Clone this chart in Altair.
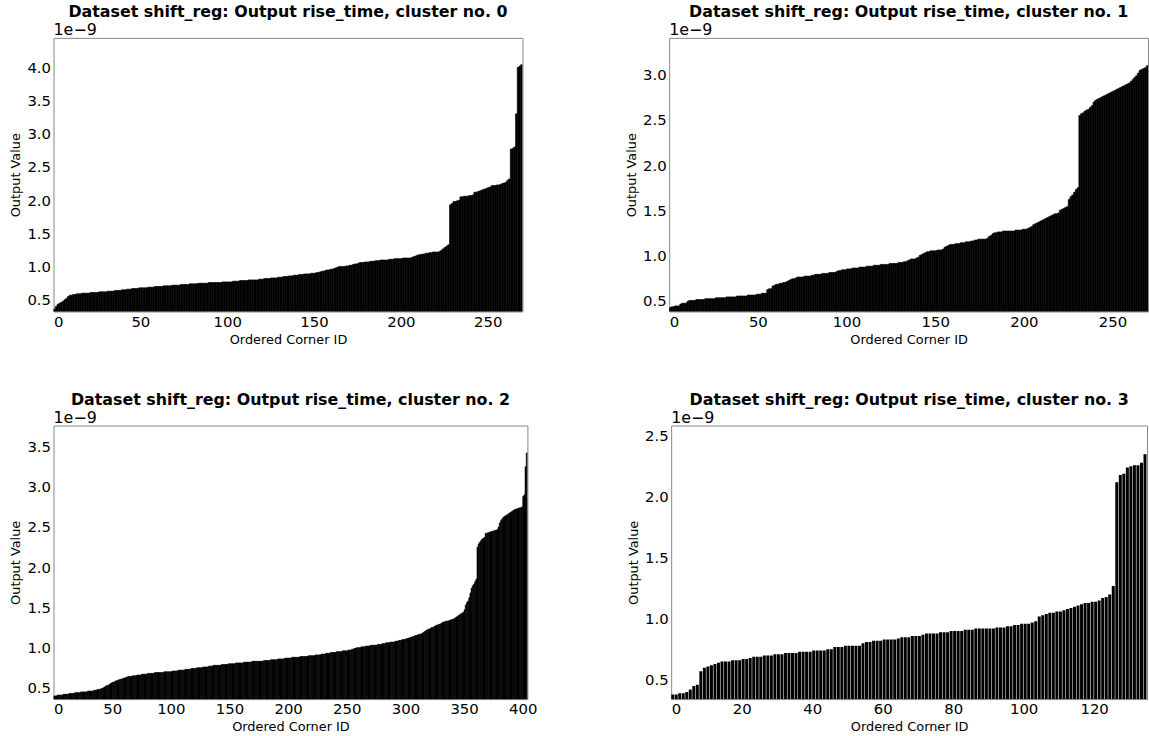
import altair as alt
import pandas as pd

# values in units of 1e-9 s, sorted
cluster0 = [
    0.36, 0.40, 0.43, 0.45, 0.46, 0.48, 0.50, 0.52, 0.55, 0.57,
    0.57, 0.58, 0.58, 0.59, 0.59, 0.59, 0.60, 0.60, 0.60, 0.60,
    0.60, 0.61, 0.61, 0.61, 0.61, 0.61, 0.62, 0.62, 0.62, 0.62,
    0.62, 0.63, 0.63, 0.63, 0.63, 0.64, 0.64, 0.64, 0.64, 0.65,
    0.65, 0.65, 0.66, 0.66, 0.66, 0.67, 0.67, 0.67, 0.67, 0.68,
    0.68, 0.68, 0.68, 0.68, 0.69, 0.69, 0.69, 0.69, 0.70, 0.70,
    0.70, 0.70, 0.70, 0.71, 0.71, 0.71, 0.71, 0.71, 0.72, 0.72,
    0.72, 0.72, 0.72, 0.73, 0.73, 0.73, 0.73, 0.73, 0.74, 0.74,
    0.74, 0.74, 0.74, 0.75, 0.75, 0.75, 0.75, 0.75, 0.75, 0.76,
    0.76, 0.76, 0.76, 0.76, 0.76, 0.76, 0.76, 0.77, 0.77, 0.77,
    0.77, 0.77, 0.77, 0.78, 0.78, 0.78, 0.78, 0.79, 0.79, 0.79,
    0.79, 0.79, 0.80, 0.80, 0.80, 0.80, 0.80, 0.80, 0.81, 0.81,
    0.81, 0.82, 0.82, 0.82, 0.82, 0.83, 0.83, 0.83, 0.83, 0.84,
    0.84, 0.84, 0.85, 0.85, 0.85, 0.86, 0.86, 0.86, 0.87, 0.87,
    0.87, 0.88, 0.88, 0.88, 0.89, 0.89, 0.89, 0.89, 0.90, 0.90,
    0.90, 0.91, 0.91, 0.92, 0.93, 0.93, 0.94, 0.95, 0.95, 0.96,
    0.96, 0.97, 0.98, 0.99, 1.00, 1.00, 1.00, 1.00, 1.01, 1.01,
    1.02, 1.02, 1.03, 1.04, 1.04, 1.05, 1.06, 1.06, 1.06, 1.07,
    1.07, 1.07, 1.08, 1.08, 1.08, 1.09, 1.09, 1.09, 1.10, 1.10,
    1.10, 1.10, 1.10, 1.11, 1.11, 1.11, 1.12, 1.12, 1.12, 1.12,
    1.12, 1.13, 1.13, 1.13, 1.13, 1.13, 1.14, 1.15, 1.16, 1.17,
    1.18, 1.18, 1.19, 1.19, 1.20, 1.20, 1.21, 1.21, 1.22, 1.22,
    1.22, 1.22, 1.23, 1.25, 1.27, 1.29, 1.31, 1.33, 1.93, 1.95,
    1.98, 1.98, 1.99, 2.00, 2.05, 2.05, 2.06, 2.06, 2.06, 2.07,
    2.07, 2.08, 2.12, 2.12, 2.13, 2.14, 2.15, 2.16, 2.17, 2.18,
    2.19, 2.20, 2.22, 2.22, 2.22, 2.23, 2.23, 2.24, 2.25, 2.26,
    2.27, 2.30, 2.32, 2.77, 2.78, 2.80, 3.30, 4.00, 4.02, 4.04,
]

cluster1 = [
    0.42, 0.43, 0.43, 0.44, 0.44, 0.44, 0.46, 0.47, 0.47, 0.47,
    0.49, 0.50, 0.50, 0.50, 0.50, 0.51, 0.51, 0.51, 0.51, 0.51,
    0.52, 0.52, 0.52, 0.52, 0.52, 0.52, 0.53, 0.53, 0.53, 0.53,
    0.53, 0.53, 0.54, 0.54, 0.54, 0.54, 0.54, 0.54, 0.55, 0.55,
    0.55, 0.55, 0.55, 0.55, 0.56, 0.56, 0.56, 0.56, 0.56, 0.57,
    0.57, 0.57, 0.58, 0.58, 0.58, 0.62, 0.63, 0.63, 0.66, 0.67,
    0.68, 0.68, 0.69, 0.69, 0.70, 0.70, 0.71, 0.72, 0.73, 0.74,
    0.74, 0.75, 0.76, 0.76, 0.76, 0.76, 0.77, 0.77, 0.77, 0.77,
    0.78, 0.78, 0.79, 0.79, 0.79, 0.79, 0.80, 0.80, 0.80, 0.80,
    0.81, 0.81, 0.81, 0.81, 0.82, 0.83, 0.83, 0.84, 0.84, 0.84,
    0.85, 0.85, 0.85, 0.86, 0.86, 0.86, 0.86, 0.87, 0.87, 0.87,
    0.87, 0.88, 0.88, 0.88, 0.88, 0.89, 0.89, 0.89, 0.89, 0.90,
    0.90, 0.90, 0.90, 0.90, 0.91, 0.91, 0.91, 0.91, 0.91, 0.92,
    0.92, 0.92, 0.93, 0.93, 0.94, 0.95, 0.96, 0.96, 0.96, 0.97,
    0.98, 1.00, 1.01, 1.02, 1.03, 1.04, 1.04, 1.05, 1.05, 1.05,
    1.05, 1.06, 1.06, 1.06, 1.07, 1.09, 1.10, 1.11, 1.12, 1.12,
    1.12, 1.13, 1.13, 1.13, 1.14, 1.14, 1.14, 1.15, 1.15, 1.15,
    1.16, 1.16, 1.17, 1.17, 1.18, 1.18, 1.18, 1.18, 1.18, 1.19,
    1.21, 1.22, 1.24, 1.25, 1.25, 1.26, 1.26, 1.26, 1.27, 1.27,
    1.27, 1.27, 1.27, 1.27, 1.27, 1.28, 1.28, 1.28, 1.28, 1.29,
    1.29, 1.29, 1.30, 1.31, 1.32, 1.34, 1.35, 1.36, 1.37, 1.38,
    1.39, 1.40, 1.41, 1.42, 1.43, 1.44, 1.45, 1.46, 1.46, 1.47,
    1.50, 1.51, 1.52, 1.53, 1.54, 1.62, 1.65, 1.67, 1.70, 1.73,
    1.75, 2.55, 2.57, 2.58, 2.60, 2.61, 2.62, 2.64, 2.66, 2.70,
    2.72, 2.73, 2.74, 2.75, 2.76, 2.77, 2.78, 2.79, 2.80, 2.81,
    2.82, 2.83, 2.84, 2.85, 2.86, 2.87, 2.88, 2.89, 2.90, 2.91,
    2.93, 2.95, 2.97, 2.99, 3.02, 3.05, 3.06, 3.07, 3.08, 3.10,
]

cluster2 = [
    0.40, 0.40, 0.40, 0.41, 0.41, 0.41, 0.41, 0.41, 0.42, 0.42,
    0.42, 0.42, 0.42, 0.43, 0.43, 0.43, 0.43, 0.43, 0.44, 0.44,
    0.44, 0.44, 0.44, 0.45, 0.45, 0.45, 0.45, 0.45, 0.45, 0.46,
    0.46, 0.46, 0.46, 0.46, 0.47, 0.47, 0.47, 0.48, 0.48, 0.48,
    0.49, 0.49, 0.50, 0.51, 0.52, 0.53, 0.53, 0.54, 0.55, 0.56,
    0.57, 0.57, 0.58, 0.59, 0.59, 0.60, 0.60, 0.61, 0.61, 0.62,
    0.62, 0.63, 0.63, 0.64, 0.64, 0.64, 0.64, 0.65, 0.65, 0.65,
    0.65, 0.66, 0.66, 0.66, 0.66, 0.67, 0.67, 0.67, 0.67, 0.67,
    0.68, 0.68, 0.68, 0.68, 0.68, 0.68, 0.69, 0.69, 0.69, 0.69,
    0.69, 0.69, 0.69, 0.69, 0.70, 0.70, 0.70, 0.70, 0.70, 0.70,
    0.70, 0.71, 0.71, 0.71, 0.71, 0.71, 0.72, 0.72, 0.72, 0.72,
    0.72, 0.72, 0.73, 0.73, 0.73, 0.73, 0.73, 0.74, 0.74, 0.74,
    0.74, 0.74, 0.75, 0.75, 0.75, 0.75, 0.75, 0.76, 0.76, 0.76,
    0.76, 0.76, 0.77, 0.77, 0.77, 0.77, 0.78, 0.78, 0.78, 0.78,
    0.78, 0.78, 0.78, 0.79, 0.79, 0.79, 0.79, 0.79, 0.79, 0.80,
    0.80, 0.80, 0.80, 0.80, 0.80, 0.81, 0.81, 0.81, 0.81, 0.81,
    0.81, 0.81, 0.82, 0.82, 0.82, 0.82, 0.82, 0.82, 0.82, 0.83,
    0.83, 0.83, 0.83, 0.83, 0.83, 0.83, 0.83, 0.83, 0.83, 0.84,
    0.84, 0.84, 0.84, 0.84, 0.84, 0.85, 0.85, 0.85, 0.85, 0.85,
    0.85, 0.86, 0.86, 0.86, 0.86, 0.86, 0.86, 0.87, 0.87, 0.87,
    0.87, 0.87, 0.87, 0.88, 0.88, 0.88, 0.88, 0.88, 0.88, 0.88,
    0.89, 0.89, 0.89, 0.89, 0.89, 0.89, 0.89, 0.90, 0.90, 0.90,
    0.90, 0.90, 0.90, 0.91, 0.91, 0.91, 0.91, 0.91, 0.92, 0.92,
    0.92, 0.92, 0.93, 0.93, 0.93, 0.93, 0.94, 0.94, 0.94, 0.94,
    0.94, 0.95, 0.95, 0.95, 0.95, 0.95, 0.96, 0.96, 0.96, 0.96,
    0.96, 0.97, 0.97, 0.97, 0.98, 0.98, 0.99, 0.99, 1.00, 1.00,
    1.00, 1.00, 1.01, 1.01, 1.01, 1.01, 1.02, 1.02, 1.02, 1.02,
    1.03, 1.03, 1.03, 1.03, 1.03, 1.03, 1.04, 1.04, 1.04, 1.04,
    1.05, 1.05, 1.05, 1.06, 1.06, 1.06, 1.06, 1.07, 1.07, 1.07,
    1.07, 1.08, 1.08, 1.08, 1.09, 1.09, 1.09, 1.10, 1.10, 1.10,
    1.11, 1.11, 1.12, 1.12, 1.13, 1.13, 1.14, 1.14, 1.15, 1.15,
    1.16, 1.16, 1.17, 1.17, 1.18, 1.19, 1.20, 1.21, 1.22, 1.23,
    1.23, 1.24, 1.25, 1.25, 1.26, 1.27, 1.28, 1.28, 1.29, 1.29,
    1.30, 1.31, 1.32, 1.32, 1.33, 1.33, 1.33, 1.34, 1.34, 1.35,
    1.35, 1.36, 1.37, 1.38, 1.39, 1.40, 1.41, 1.42, 1.43, 1.44,
    1.47, 1.53, 1.56, 1.58, 1.62, 1.68, 1.74, 1.77, 1.79, 1.82,
    1.85, 2.25, 2.29, 2.31, 2.33, 2.35, 2.36, 2.37, 2.42, 2.42,
    2.43, 2.43, 2.44, 2.44, 2.45, 2.45, 2.46, 2.46, 2.47, 2.50,
    2.55, 2.58, 2.60, 2.62, 2.63, 2.64, 2.65, 2.66, 2.67, 2.68,
    2.69, 2.70, 2.71, 2.72, 2.72, 2.73, 2.73, 2.74, 2.74, 2.75,
    2.88, 2.90, 3.25, 3.42,
]

cluster3 = [
    0.38, 0.38, 0.39, 0.39, 0.40, 0.42, 0.45, 0.46, 0.57, 0.60,
    0.61, 0.62, 0.63, 0.64, 0.65, 0.65, 0.65, 0.66, 0.66, 0.66,
    0.67, 0.67, 0.68, 0.69, 0.69, 0.69, 0.70, 0.70, 0.70, 0.71,
    0.71, 0.71, 0.72, 0.72, 0.72, 0.72, 0.73, 0.73, 0.73, 0.73,
    0.74, 0.74, 0.74, 0.74, 0.75, 0.75, 0.77, 0.77, 0.77, 0.78,
    0.78, 0.78, 0.78, 0.78, 0.80, 0.81, 0.81, 0.82, 0.82, 0.82,
    0.83, 0.83, 0.83, 0.83, 0.84, 0.85, 0.85, 0.85, 0.86, 0.86,
    0.86, 0.87, 0.88, 0.88, 0.88, 0.88, 0.89, 0.89, 0.89, 0.90,
    0.90, 0.90, 0.90, 0.91, 0.91, 0.91, 0.92, 0.92, 0.92, 0.92,
    0.92, 0.92, 0.93, 0.93, 0.93, 0.94, 0.94, 0.95, 0.95, 0.96,
    0.96, 0.96, 0.97, 0.98, 1.02, 1.03, 1.04, 1.05, 1.05, 1.06,
    1.06, 1.07, 1.08, 1.09, 1.10, 1.11, 1.12, 1.13, 1.13, 1.14,
    1.14, 1.15, 1.17, 1.18, 1.20, 1.27, 2.12, 2.18, 2.19, 2.24,
    2.25, 2.26, 2.26, 2.28, 2.35,
]

xticks0 = [0, 50, 100, 150, 200, 250]
xticks1 = [0, 50, 100, 150, 200, 250]
xticks2 = [0, 50, 100, 150, 200, 250, 300, 350, 400]
xticks3 = [0, 20, 40, 60, 80, 100, 120]
yticks0 = [0.5, 1.0, 1.5, 2.0, 2.5, 3.0, 3.5, 4.0]
yticks1 = [0.5, 1.0, 1.5, 2.0, 2.5, 3.0]
yticks2 = [0.5, 1.0, 1.5, 2.0, 2.5, 3.0, 3.5]
yticks3 = [0.5, 1.0, 1.5, 2.0, 2.5]

FONT = "DejaVu Sans"


def panel(vals, cluster_no, xticks, yticks, w, h, bar_w, stroke_w):
    n = len(vals)
    df = pd.DataFrame({"i": list(range(n)), "v": vals})
    ymin = min(vals) * 0.9
    ymax = max(vals) * 1.1
    bars = (
        alt.Chart(df)
        .transform_calculate(i2=f"datum.i + {bar_w}", v0=str(ymin))
        .mark_rect(color="black", stroke="black", strokeWidth=stroke_w, clip=True)
        .encode(
            x=alt.X(
                "i:Q",
                scale=alt.Scale(domain=[0, n], nice=False, zero=False),
                axis=alt.Axis(values=xticks, title="Ordered Corner ID", format="d"),
            ),
            x2="i2:Q",
            y=alt.Y(
                "v:Q",
                scale=alt.Scale(domain=[ymin, ymax], nice=False, zero=False),
                axis=alt.Axis(values=yticks, title="Output Value", format=".1f"),
            ),
            y2="v0:Q",
        )
    )
    offset = (
        alt.Chart(pd.DataFrame({"t": ["1e\u22129"]}))
        .mark_text(align="left", baseline="bottom", font=FONT, fontSize=16, color="black")
        .encode(text="t:N", x=alt.value(0), y=alt.value(0))
    )
    return alt.layer(bars, offset).properties(
        width=w,
        height=h,
        title=alt.TitleParams(
            f"Dataset shift_reg: Output rise_time, cluster no. {cluster_no}",
            font=FONT,
            fontSize=16,
            fontWeight="bold",
            color="black",
            offset=2,
        ),
    )


p0 = panel(cluster0, 0, xticks0, yticks0, 473, 276, 1.0, 0.6)
p1 = panel(cluster1, 1, xticks1, yticks1, 483, 276, 1.0, 0.6)
p2 = panel(cluster2, 2, xticks2, yticks2, 478, 276, 1.0, 0.6)
p3 = panel(cluster3, 3, xticks3, yticks3, 480, 276, 0.85, 0)

chart = (
    alt.vconcat(
        alt.hconcat(p0, p1, spacing=102),
        alt.hconcat(p2, p3, spacing=89),
        spacing=44,
    )
    .properties(padding={"left": 9, "top": 0, "right": 0, "bottom": 0}, background="white")
    .configure_view(stroke="#888888", strokeWidth=1)
    .configure_axis(
        labelFont=FONT,
        labelFontSize=15,
        labelColor="black",
        labelPadding=3,
        titleFont=FONT,
        titleFontSize=13,
        titleFontWeight="normal",
        titleColor="black",
        titlePadding=4,
        ticks=False,
        domain=False,
        grid=False,
    )
)

chart.save("out.html", embed_options={"renderer": "svg", "actions": False})
